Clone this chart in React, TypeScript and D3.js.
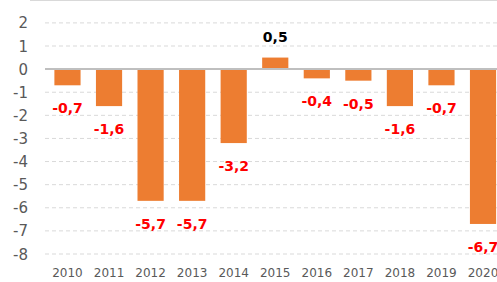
import React, { useEffect, useRef } from "react";
import * as d3 from "d3";

const years = ["2010", "2011", "2012", "2013", "2014", "2015", "2016", "2017", "2018", "2019", "2020"];
const values = [-0.7, -1.6, -5.7, -5.7, -3.2, 0.5, -0.4, -0.5, -1.6, -0.7, -6.7];
const yTicks = [2, 1, 0, -1, -2, -3, -4, -5, -6, -7, -8];

const W = 497;
const H = 282;
const BAR = "#ED7D31";

export default function App() {
  const svgRef = useRef<SVGSVGElement>(null);

  useEffect(() => {
    document.body.style.margin = "0";
    if (!svgRef.current) return;
    const svg = d3.select(svgRef.current);
    svg.selectAll("*").remove();

    const y = d3.scaleLinear().domain([2, -8]).range([22.9, 254]);
    const x = d3
      .scaleBand<string>()
      .domain(years)
      .range([46.7, 503.8])
      .paddingInner(0.37)
      .paddingOuter(0.185);

    const font = "'DejaVu Sans', sans-serif";

    // top border
    svg.append("line")
      .attr("x1", 30).attr("x2", W)
      .attr("y1", 0.5).attr("y2", 0.5)
      .attr("stroke", "#d9d9d9").attr("stroke-width", 1);

    // gridlines
    svg.append("g")
      .selectAll("line")
      .data(yTicks.filter((t) => t !== 0))
      .join("line")
      .attr("x1", 45).attr("x2", W)
      .attr("y1", (d) => y(d)).attr("y2", (d) => y(d))
      .attr("stroke", "#d9d9d9")
      .attr("stroke-width", 1)
      .attr("stroke-dasharray", "4,3");

    // y tick labels
    svg.append("g")
      .selectAll("text")
      .data(yTicks)
      .join("text")
      .attr("x", 28)
      .attr("y", (d) => y(d) + 5.5)
      .attr("text-anchor", "end")
      .attr("font-family", font)
      .attr("font-size", "15px")
      .attr("fill", "#595959")
      .text((d) => String(d));

    // bars
    svg.append("g")
      .selectAll("rect")
      .data(values)
      .join("rect")
      .attr("x", (_, i) => x(years[i]) || 0)
      .attr("width", x.bandwidth())
      .attr("y", (d) => y(Math.max(0, d)))
      .attr("height", (d) => Math.abs(y(d) - y(0)))
      .attr("fill", BAR);

    // zero line
    svg.append("line")
      .attr("x1", 45).attr("x2", W)
      .attr("y1", y(0)).attr("y2", y(0))
      .attr("stroke", "#bfbfbf").attr("stroke-width", 2);

    // data labels
    svg.append("g")
      .selectAll("text")
      .data(values)
      .join("text")
      .attr("x", (_, i) => (x(years[i]) || 0) + x.bandwidth() / 2)
      .attr("y", (d) => (d < 0 ? y(d) + 28 : y(d) - 16))
      .attr("text-anchor", "middle")
      .attr("font-family", font)
      .attr("font-size", "14px")
      .attr("font-weight", "bold")
      .attr("fill", (d) => (d < 0 ? "#FF0000" : "#000000"))
      .text((d) => d.toFixed(1).replace(".", ","));

    // x labels
    svg.append("g")
      .selectAll("text")
      .data(years)
      .join("text")
      .attr("x", (d) => (x(d) || 0) + x.bandwidth() / 2)
      .attr("y", 277)
      .attr("text-anchor", "middle")
      .attr("font-family", font)
      .attr("font-size", "12px")
      .attr("fill", "#595959")
      .text((d) => d);
  }, []);

  return <svg ref={svgRef} width={W} height={H} style={{ display: "block" }}></svg>;
}
